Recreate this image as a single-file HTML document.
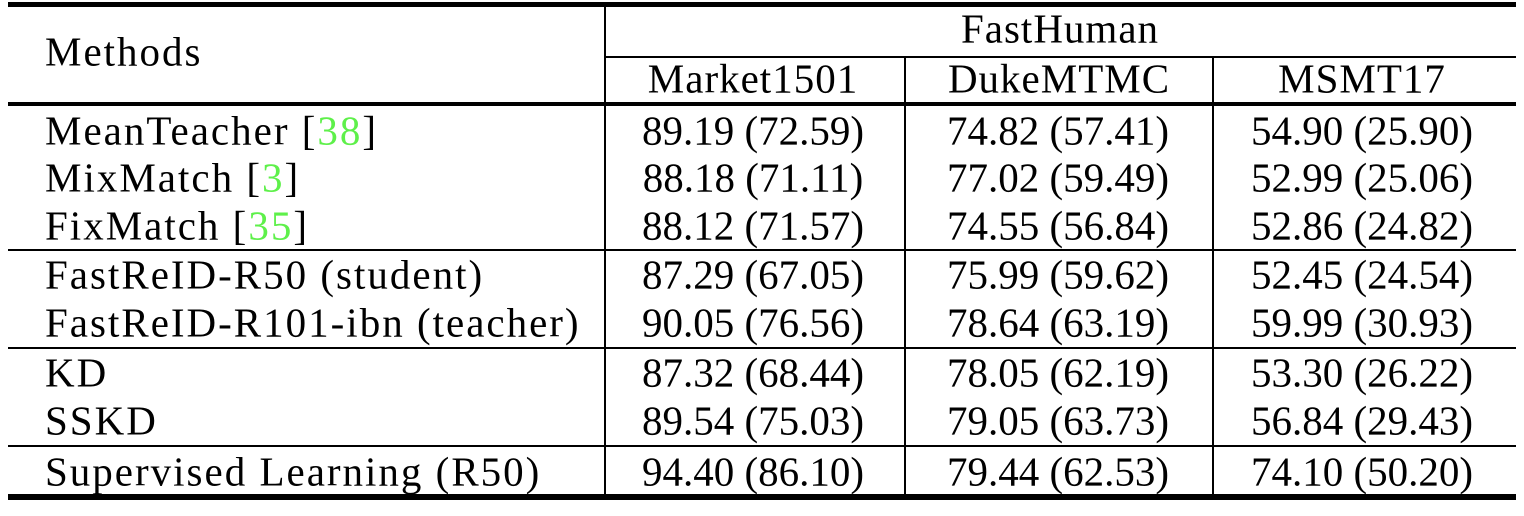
<!DOCTYPE html>
<html><head><meta charset="utf-8"><style>
body{margin:0;width:1524px;height:516px;background:#fff;position:relative;overflow:hidden;font-family:"Liberation Serif",serif;font-size:41px;color:#000}
.r{position:absolute;background:#000}
.t{position:absolute;white-space:nowrap;line-height:1;transform:translateY(-50%)}
.c{transform:translate(-50%,-50%)}
.m{letter-spacing:2px}
.h{letter-spacing:1px}
.g{color:#5ef04a}
</style></head><body>
<div class="r" style="left:8px;top:2px;width:1508px;height:5px"></div>
<div class="r" style="left:605px;top:56px;width:911px;height:2px"></div>
<div class="r" style="left:8px;top:102px;width:1508px;height:4px"></div>
<div class="r" style="left:8px;top:249px;width:1508px;height:2px"></div>
<div class="r" style="left:8px;top:347px;width:1508px;height:2px"></div>
<div class="r" style="left:8px;top:445px;width:1508px;height:2px"></div>
<div class="r" style="left:8px;top:494px;width:1508px;height:6px"></div>
<div class="r" style="left:604px;top:7px;width:2px;height:487px"></div>
<div class="r" style="left:904px;top:57px;width:2px;height:437px"></div>
<div class="r" style="left:1212px;top:57px;width:2px;height:437px"></div>

<div class="t m" style="left:45px;top:52px">Methods</div>
<div class="t c h" style="left:1060px;top:29px">FastHuman</div>
<div class="t c h" style="left:753px;top:79px">Market1501</div>
<div class="t c h" style="left:1059px;top:79px">DukeMTMC</div>
<div class="t c h" style="left:1362px;top:79px">MSMT17</div>

<div id="rows"></div>
<script>
const methods=["MeanTeacher [<span class='g'>38</span>]","MixMatch [<span class='g'>3</span>]","FixMatch [<span class='g'>35</span>]","FastReID-R50 (student)","FastReID-R101-ibn (teacher)","KD","SSKD","Supervised Learning (R50)"];
const market=["89.19 (72.59)","88.18 (71.11)","88.12 (71.57)","87.29 (67.05)","90.05 (76.56)","87.32 (68.44)","89.54 (75.03)","94.40 (86.10)"];
const duke=["74.82 (57.41)","77.02 (59.49)","74.55 (56.84)","75.99 (59.62)","78.64 (63.19)","78.05 (62.19)","79.05 (63.73)","79.44 (62.53)"];
const msmt=["54.90 (25.90)","52.99 (25.06)","52.86 (24.82)","52.45 (24.54)","59.99 (30.93)","53.30 (26.22)","56.84 (29.43)","74.10 (50.20)"];
const ys=[131,178,226,275,323,373,421,472];
const host=document.getElementById('rows');
methods.forEach((m,i)=>{
  const a=document.createElement('div');a.className='t m';a.style.left='45px';a.style.top=ys[i]+'px';a.innerHTML=m;
  
  
  host.appendChild(a);
  [[market,753],[duke,1058],[msmt,1362]].forEach(([arr,x])=>{
    const d=document.createElement('div');d.className='t c';d.style.left=x+'px';d.style.top=ys[i]+'px';d.textContent=arr[i];
    
    
    host.appendChild(d);
  });
});
</script>
</body></html>
